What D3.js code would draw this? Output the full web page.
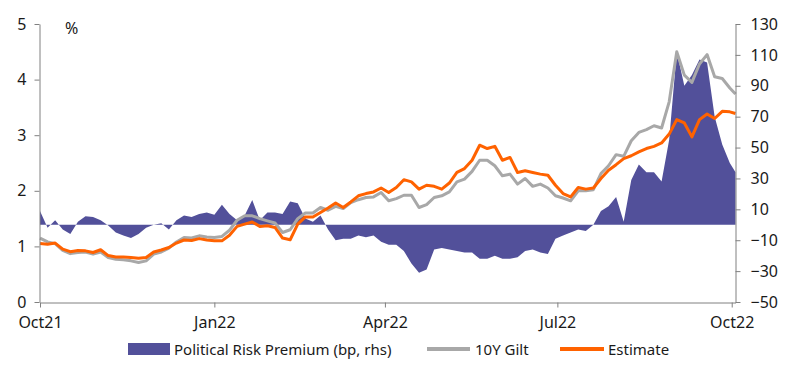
<!DOCTYPE html>
<html>
<head>
<meta charset="utf-8">
<script src="https://cdn.jsdelivr.net/npm/d3@7"></script>
<style>
  body { margin: 0; background: #fff; }
  svg { font-family: "Noto Sans", "DejaVu Sans", sans-serif; }
  .axis path, .axis line { stroke: #808080; }
  .axis text { fill: #1a1a1a; font-size: 16px; font-family: "Noto Sans", sans-serif; }
</style>
</head>
<body>
<script>
// Data (every 4 days)
var dates = ["2021-10-01","2021-10-05","2021-10-09","2021-10-13","2021-10-17","2021-10-21","2021-10-25","2021-10-29",
  "2021-11-02","2021-11-06","2021-11-10","2021-11-14","2021-11-18","2021-11-22","2021-11-26","2021-11-30",
  "2021-12-04","2021-12-08","2021-12-12","2021-12-16","2021-12-20","2021-12-24","2021-12-28",
  "2022-01-01","2022-01-05","2022-01-09","2022-01-13","2022-01-17","2022-01-21","2022-01-25","2022-01-29",
  "2022-02-02","2022-02-06","2022-02-10","2022-02-14","2022-02-18","2022-02-22","2022-02-26",
  "2022-03-02","2022-03-06","2022-03-10","2022-03-14","2022-03-18","2022-03-22","2022-03-26","2022-03-30",
  "2022-04-03","2022-04-07","2022-04-11","2022-04-15","2022-04-19","2022-04-23","2022-04-27",
  "2022-05-01","2022-05-05","2022-05-09","2022-05-13","2022-05-17","2022-05-21","2022-05-25","2022-05-29",
  "2022-06-02","2022-06-06","2022-06-10","2022-06-14","2022-06-18","2022-06-22","2022-06-26","2022-06-30",
  "2022-07-04","2022-07-08","2022-07-12","2022-07-16","2022-07-20","2022-07-24","2022-07-28",
  "2022-08-01","2022-08-05","2022-08-09","2022-08-13","2022-08-17","2022-08-21","2022-08-25","2022-08-29",
  "2022-09-02","2022-09-06","2022-09-10","2022-09-14","2022-09-18","2022-09-22","2022-09-26","2022-09-30","2022-10-03"];

// Political risk premium, bp (right axis)
var premium = [9,-2,3,-3,-6,2,5.5,5, 3,-0.5,-5,-7,-8.5,-6,-2,0, 1,-3,3,6,5,7,8,
  6.5,13,7,3,6,16,3,8, 8,7,15,14,4,2,6, -3,-10,-9,-9,-7,-8,-7,-11,
  -13,-13,-17,-25,-31,-29,-16, -15,-16,-17,-18,-18,-22,-22,-20, -22,-22,-21,-17,-16,-18,-19,-9,
  -7,-5,-3,-4,0,9,12, 18,2,29,39,34,34,28,55, 112,90,97,107,105,70,52,40,34];

// 10Y Gilt yield, %
var gilt = [1.15,1.08,1.05,0.93,0.87,0.89,0.90,0.86, 0.90,0.80,0.77,0.76,0.74,0.71,0.74,0.86, 0.90,0.97,1.08,1.16,1.15,1.19,1.17,
  1.16,1.18,1.29,1.47,1.55,1.55,1.50,1.46, 1.42,1.25,1.30,1.50,1.60,1.60,1.70, 1.65,1.72,1.68,1.79,1.84,1.88,1.89,1.97,
  1.82,1.86,1.92,1.92,1.70,1.75,1.88, 1.91,1.98,2.16,2.21,2.35,2.55,2.55,2.45, 2.27,2.30,2.12,2.22,2.08,2.12,2.05,1.91,
  1.87,1.82,2.00,2.00,2.02,2.31,2.45, 2.65,2.62,2.90,3.05,3.10,3.17,3.13,3.60, 4.50,4.08,3.95,4.28,4.45,4.05,4.02,3.85,3.74];

// Estimate, %
var estimate = [1.05,1.04,1.06,0.95,0.905,0.925,0.92,0.89, 0.94,0.835,0.81,0.81,0.80,0.785,0.80,0.90, 0.935,0.98,1.06,1.115,1.105,1.14,1.115,
  1.10,1.10,1.20,1.36,1.40,1.44,1.36,1.37, 1.34,1.15,1.12,1.40,1.53,1.53,1.61, 1.69,1.78,1.70,1.80,1.91,1.95,1.98,2.05,
  1.97,2.06,2.20,2.16,2.03,2.10,2.08, 2.03,2.14,2.33,2.40,2.55,2.82,2.76,2.80, 2.55,2.60,2.33,2.36,2.33,2.30,2.28,2.10,
  1.95,1.89,2.06,2.03,2.05,2.22,2.37, 2.47,2.58,2.63,2.70,2.76,2.80,2.86,3.02, 3.28,3.22,2.97,3.28,3.38,3.30,3.43,3.42,3.39];

var xTicks = ["2021-10-01","2022-01-01","2022-04-01","2022-07-01","2022-10-01"];
var xTickLabels = ["Oct21","Jan22","Apr22","Jul22","Oct22"];
var leftTicks = [0,1,2,3,4,5];
var rightTicks = [-50,-30,-10,10,30,50,70,90,110,130];

var parse = d3.timeParse("%Y-%m-%d");
var rows = dates.map(function(d, i) {
  return {date: parse(d), premium: premium[i], gilt: gilt[i], estimate: estimate[i]};
});

var svg = d3.select("body").append("svg")
  .attr("width", 792)
  .attr("height", 372);

// Scales
var x = d3.scaleTime()
  .domain([parse("2021-10-01"), parse("2022-10-03")])
  .range([40, 735.5]);
var yL = d3.scaleLinear().domain([0, 5]).range([302, 24]);
var yR = d3.scaleLinear().domain([-50, 130]).range([302, 24]);

// Premium area around zero
var area = d3.area()
  .x(function(d) { return x(d.date); })
  .y0(yR(0))
  .y1(function(d) { return yR(d.premium); });

svg.append("path")
  .datum(rows)
  .attr("d", area)
  .attr("fill", "#52509a");

// Lines
var giltLine = d3.line()
  .x(function(d) { return x(d.date); })
  .y(function(d) { return yL(d.gilt); });
var estLine = d3.line()
  .x(function(d) { return x(d.date); })
  .y(function(d) { return yL(d.estimate); });

svg.append("path")
  .datum(rows)
  .attr("d", giltLine)
  .attr("fill", "none")
  .attr("stroke", "#a8a8a8")
  .attr("stroke-width", 3)
  .attr("stroke-linejoin", "round");

svg.append("path")
  .datum(rows)
  .attr("d", estLine)
  .attr("fill", "none")
  .attr("stroke", "#ff6200")
  .attr("stroke-width", 3)
  .attr("stroke-linejoin", "round");

// Axes
svg.append("g")
  .attr("class", "axis")
  .attr("transform", "translate(39.5,0)")
  .call(d3.axisLeft(yL).tickValues(leftTicks).tickSize(5).tickSizeOuter(0).tickPadding(8).tickFormat(d3.format("d")));

svg.append("g")
  .attr("class", "axis")
  .attr("transform", "translate(735.5,0)")
  .call(d3.axisRight(yR).tickValues(rightTicks).tickSize(5).tickSizeOuter(0).tickPadding(10).tickFormat(d3.format("d")));

svg.append("g")
  .attr("class", "axis")
  .attr("transform", "translate(0,302.5)")
  .call(d3.axisBottom(x)
    .tickValues(xTicks.map(parse))
    .tickSize(5)
    .tickSizeOuter(0)
    .tickPadding(9)
    .tickFormat(function(d, i) { return xTickLabels[i]; }));

svg.append("text")
  .attr("x", 65)
  .attr("y", 34)
  .style("font-size", "16px")
  .attr("fill", "#1a1a1a")
  .text("%");

// Legend
var legend = svg.append("g").attr("transform", "translate(0,349)");
legend.append("rect")
  .attr("x", 128).attr("y", -6)
  .attr("width", 42).attr("height", 12)
  .attr("fill", "#52509a");
legend.append("text")
  .attr("x", 174).attr("y", 5.5)
  .style("font-size", "15px").attr("fill", "#1a1a1a")
  .text("Political Risk Premium (bp, rhs)");
legend.append("line")
  .attr("x1", 427).attr("x2", 470)
  .attr("stroke", "#a8a8a8").attr("stroke-width", 4);
legend.append("text")
  .attr("x", 475).attr("y", 5.5)
  .style("font-size", "15px").attr("fill", "#1a1a1a")
  .text("10Y Gilt");
legend.append("line")
  .attr("x1", 560).attr("x2", 604)
  .attr("stroke", "#ff6200").attr("stroke-width", 4);
legend.append("text")
  .attr("x", 608).attr("y", 5.5)
  .style("font-size", "15px").attr("fill", "#1a1a1a")
  .text("Estimate");
</script>
</body>
</html>
